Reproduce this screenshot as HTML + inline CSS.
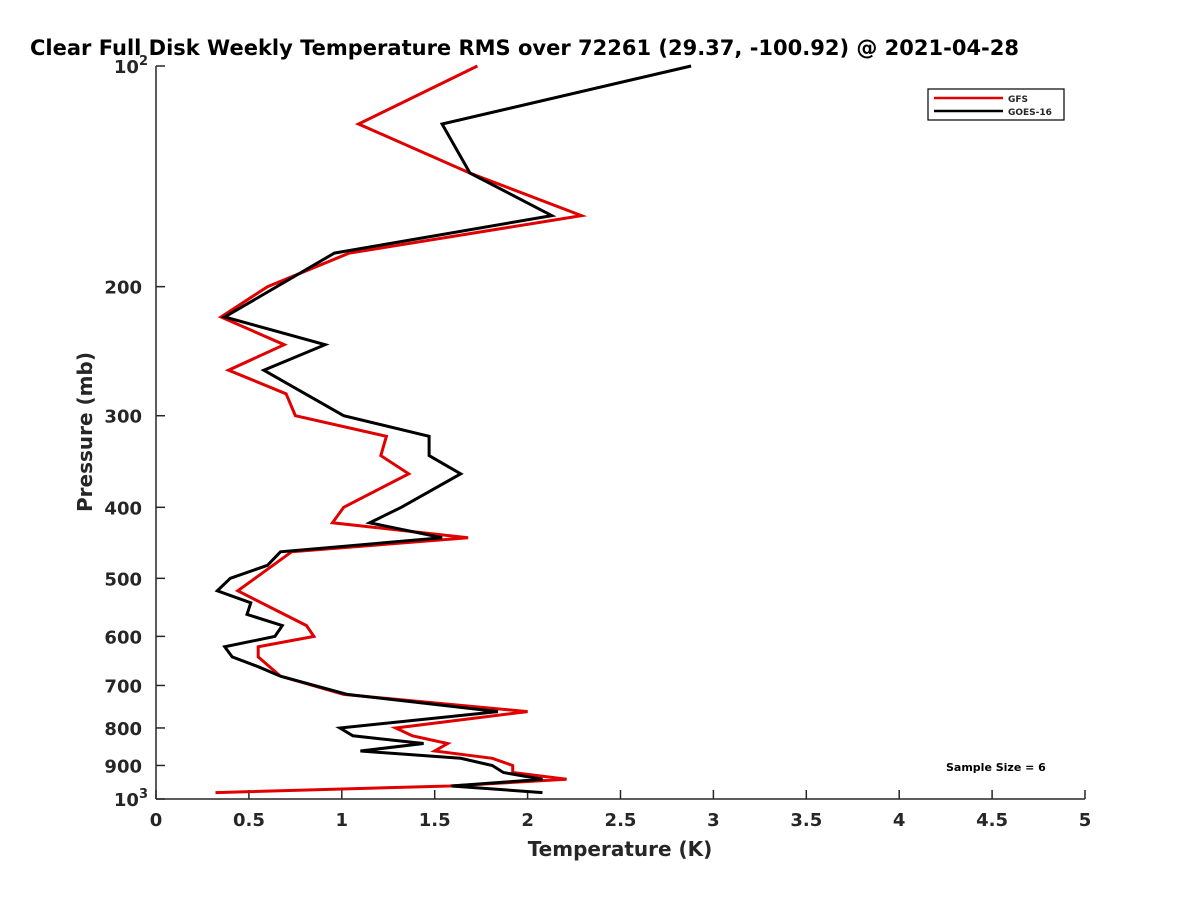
<!DOCTYPE html>
<html><head><meta charset="utf-8"><style>
body{margin:0;background:#fff;}
svg text{font-family:"DejaVu Sans","Liberation Sans",sans-serif;font-weight:bold;fill:#262626;}
</style></head><body>
<svg id="chart" width="1200" height="900" viewBox="0 0 1200 900" xmlns="http://www.w3.org/2000/svg">
<rect width="1200" height="900" fill="#fff"/>
<text x="30" y="55" font-size="21" style="fill:#000">Clear Full Disk Weekly Temperature RMS over 72261 (29.37, -100.92) @ 2021-04-28</text>
<g id="axes"></g>
<g id="series"></g>
<text x="620" y="856" font-size="20" text-anchor="middle">Temperature (K)</text>
<text transform="translate(92,432) rotate(-90)" font-size="20" text-anchor="middle">Pressure (mb)</text>
<g>
<rect x="928" y="89" width="136" height="31" fill="#fff" stroke="#000" stroke-width="1.2"/>
<line x1="934" y1="98" x2="1003" y2="98" stroke="#e00000" stroke-width="2.5"/>
<text x="1008" y="102" font-size="9">GFS</text>
<line x1="934" y1="111" x2="1003" y2="111" stroke="#000" stroke-width="2.5"/>
<text x="1008" y="115" font-size="9">GOES-16</text>
</g>
<text x="946" y="771" font-size="11" style="fill:#000">Sample Size = 6</text>
</svg>
<script>
const xTicks = [0,0.5,1,1.5,2,2.5,3,3.5,4,4.5,5];
const xTickLabels = ["0","0.5","1","1.5","2","2.5","3","3.5","4","4.5","5"];
const yTicks = [100,200,300,400,500,600,700,800,900,1000];
const gfsPressure = [100,120,140,160,180,200,220,240,260,280,300,320,340,360,400,420,440,460,520,580,600,620,640,680,720,760,800,820,840,860,880,900,920,940,960,980];
const gfsTemp = [1.73,1.09,1.69,2.29,1.04,0.60,0.35,0.69,0.39,0.70,0.75,1.24,1.21,1.36,1.01,0.95,1.68,0.73,0.44,0.81,0.85,0.55,0.55,0.67,1.01,2.00,1.29,1.38,1.57,1.50,1.81,1.92,1.92,2.21,1.58,0.32];
const goesPressure = [100,120,140,160,180,220,240,260,300,320,340,360,400,420,440,460,480,500,520,540,560,580,600,620,640,660,680,720,760,800,820,840,860,880,900,920,940,960,980];
const goesTemp = [2.88,1.54,1.69,2.13,0.96,0.37,0.91,0.58,1.01,1.47,1.47,1.64,1.32,1.15,1.54,0.67,0.60,0.40,0.33,0.51,0.49,0.68,0.64,0.37,0.41,0.55,0.67,1.03,1.84,0.99,1.06,1.44,1.10,1.64,1.81,1.87,2.08,1.59,2.08];

const NS="http://www.w3.org/2000/svg";
const X0=156,X1=1085,Y0=66,Y1=799;
function xs(t){return X0+(t-0)/(5-0)*(X1-X0);}
function ys(p){return Y0+(Math.log10(p)-2)*(Y1-Y0);}
function mk(tag,attrs,parent){const e=document.createElementNS(NS,tag);for(const k in attrs)e.setAttribute(k,attrs[k]);parent.appendChild(e);return e;}
const axes=document.getElementById('axes');
const yAxis=mk('line',{x1:X0,y1:Y0,x2:X0,y2:Y1,stroke:'#262626','stroke-width':1.5},axes);


const xAxis=mk('line',{x1:X0,y1:Y1,x2:X1,y2:Y1,stroke:'#262626','stroke-width':1.5},axes);


xTicks.forEach((t,i)=>{
  const x=xs(t);
  const tk=mk('line',{x1:x,y1:Y1,x2:x,y2:Y1-9,stroke:'#262626','stroke-width':1.5},axes);
  
  
  const lb=mk('text',{x:x,y:Y1+27,'font-size':18,'text-anchor':'middle'},axes);
  lb.textContent=xTickLabels[i];
  
  
});
yTicks.forEach(p=>{
  const y=ys(p);
  const tk=mk('line',{x1:X0,y1:y,x2:X0+9,y2:y,stroke:'#262626','stroke-width':1.5},axes);
  
  
  const lb=mk('text',{x:X0-14,y:y+7,'font-size':18,'text-anchor':'end'},axes);
  if(p===100||p===1000){
    lb.textContent='10';
    const sup=mk('tspan',{dy:-8,'font-size':13},lb);
    sup.textContent=p===100?'2':'3';
    lb.setAttribute('x',X0-8);
  } else lb.textContent=String(p);
  
  
});
const series=document.getElementById('series');
function draw(P,T,color,name){
  const pts=P.map((p,i)=>xs(T[i]).toFixed(1)+','+ys(p).toFixed(1)).join(' ');
  const pl=mk('polyline',{points:pts,fill:'none',stroke:color,'stroke-width':3,'stroke-linejoin':'miter'},series);
  
  
}
draw(gfsPressure,gfsTemp,'#e00000','gfs-line');
draw(goesPressure,goesTemp,'#000000','goes16-line');
</script>
</body></html>
